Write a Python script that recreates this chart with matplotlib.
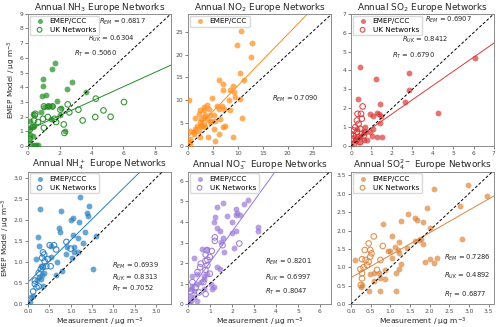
import numpy as np
import matplotlib
matplotlib.use("Agg")
import matplotlib.pyplot as plt

# ── data ─────────────────────────────────────────────────────────
# NH3
nh3_em_x = [1.67, 1.52, 0.96, 0.96, 2.75, 2.44, 1.15, 0.88, 3.63, 1.83, 1.0, 1.2, 1.35, 1.5,
            2.1, 0.33, 0.83, 2.0, 1.46, 0.1, 0.2, 0.4, 2.3, 0.1, 0.3, 0.06, 0.2, 0.37, 0.48, 0.62, 0.0]
nh3_em_y = [5.68, 5.27, 4.57, 4.07, 4.39, 3.91, 3.5, 3.39, 3.68, 3.05, 2.66, 2.7, 2.7, 2.7,
            2.6, 2.2, 2.3, 2.1, 1.86, 1.7, 1.3, 1.4, 1.0, 0.73, 0.7, 0.4, 0.1, 0.09, 0.07, 0.05, 1.05]
nh3_uk_x = [6.04, 4.27, 4.75, 5.2, 4.23, 3.17, 3.44, 2.5, 2.6, 2.04, 2.25, 2.29, 1.77, 1.0,
            1.3, 1.55, 0.46, 0.42, 0.38, 0.94, 1.0, 0.31, 0.1, 0.1, 0.63, 1.25, 1.67]
nh3_uk_y = [3.0, 3.23, 2.43, 2.0, 1.98, 2.48, 1.75, 2.84, 2.3, 2.48, 1.48, 0.9, 1.64, 2.7,
            2.7, 2.7, 2.2, 2.1, 1.75, 1.86, 1.25, 1.3, 1.1, 0.5, 1.64, 1.98, 1.86]

# NO2 (EMEP/CCC only)
no2_em_x = [10.7, 12.9, 9.9, 12.7, 10.4, 11.2, 6.2, 9.0, 7.1, 7.1, 9.2, 8.5, 9.5, 4.9, 0.2,
            8.2, 10.5, 5.9, 6.9, 3.9, 3.2, 3.2, 2.5, 4.2, 6.2, 7.2, 8.5, 2.2, 3.5, 4.5, 5.2,
            1.4, 2.7, 3.9, 6.5, 10.9, 2.5, 3.2, 4.5, 5.5, 1.9, 2.7, 3.5, 7.5, 7.1, 5.2, 1.5,
            0.5, 1.2, 2.2, 6.2, 1.2, 2.5, 4.0, 9.0, 0.5, 5.4, 0.2, 0.5, 2.9, 3.2, 4.6]
no2_em_y = [25.2, 22.6, 22.0, 19.5, 16.0, 14.4, 14.4, 13.1, 13.6, 12.2, 11.8, 12.3, 10.7, 10.6, 10.0,
            10.0, 10.2, 8.7, 8.7, 8.9, 8.5, 7.8, 7.8, 8.2, 8.2, 8.2, 7.8, 7.1, 6.7, 6.7, 6.7,
            6.2, 6.0, 6.0, 6.0, 6.2, 5.3, 4.9, 5.3, 5.6, 4.5, 4.3, 4.2, 4.5, 4.2, 3.8, 3.8,
            3.3, 3.1, 3.4, 2.7, 2.6, 2.1, 2.1, 2.0, 1.6, 1.1, 0.9, 0.5, 4.3, 6.4, 5.6]

# SO2
so2_em_x = [0.45, 6.06, 2.85, 1.22, 2.85, 0.34, 2.66, 1.43, 4.26, 0.94, 1.26, 1.35, 1.46, 1.1,
            1.43, 0.94, 1.5, 1.02, 0.62, 0.29, 0.2, 0.45, 0.78, 0.37, 0.05, 1.1, 0.7, 0.62, 1.26, 0.2]
so2_em_y = [4.18, 4.67, 3.88, 3.53, 2.98, 2.47, 2.36, 2.24, 1.76, 1.71, 1.76, 1.71, 1.62, 1.57,
            1.2, 0.74, 0.48, 0.56, 0.74, 0.92, 0.48, 0.48, 0.3, 0.21, 0.12, 0.92, 1.0, 0.3, 0.48, 0.3]
so2_uk_x = [0.57, 0.32, 0.49, 0.53, 0.29, 0.37, 0.21, 0.45, 0.13, 0.29, 0.53, 0.13, 0.37, 0.05,
            0.26, 0.45, 0.13, 0.62, 0.0, 0.7]
so2_uk_y = [2.1, 1.71, 1.71, 1.45, 1.36, 1.18, 1.0, 0.92, 0.83, 0.74, 0.65, 0.56, 0.48, 0.39,
            0.3, 0.21, 0.09, 0.56, 0.65, 0.74]

# NH4+
nh4_em_x = [1.21, 0.27, 0.77, 1.43, 1.39, 1.41, 1.05, 1.0, 1.19, 0.72, 0.74, 1.34, 1.16, 1.05,
            0.23, 1.6, 1.29, 0.92, 1.08, 0.55, 0.25, 1.08, 1.16, 0.9, 1.03, 0.18, 0.55, 0.69,
            0.31, 0.38, 0.66, 0.8, 1.52, 0.25, 0.3, 0.22, 0.35, 0.12, 0.06, 0.04, 0.33]
nh4_em_y = [2.54, 2.26, 2.22, 2.33, 2.17, 2.1, 2.04, 2.0, 1.96, 1.82, 1.72, 1.72, 1.58, 1.64,
            1.6, 1.62, 1.46, 1.36, 1.36, 1.38, 1.38, 1.23, 1.23, 1.18, 1.1, 1.07, 1.12, 0.99,
            0.91, 0.75, 0.7, 0.78, 0.83, 0.64, 0.59, 0.58, 0.43, 0.19, 0.16, 0.06, 0.7]
nh4_uk_x = [0.9, 0.51, 0.61, 0.66, 1.0, 0.35, 0.38, 0.33, 0.47, 0.39, 0.35, 0.3, 0.43, 0.25,
            0.16, 0.16, 0.2, 0.12, 0.25, 0.53]
nh4_uk_y = [1.48, 1.4, 1.4, 1.3, 1.32, 1.23, 1.18, 1.1, 1.07, 1.02, 0.88, 0.83, 0.9, 0.74,
            0.56, 0.48, 0.4, 0.3, 0.42, 0.9]

# NO3-
no3_em_x = [2.74, 2.55, 1.61, 1.34, 2.17, 2.22, 2.17, 2.36, 1.22, 1.79, 2.01, 1.19, 3.16, 3.16,
            1.31, 1.46, 2.17, 1.99, 1.57, 1.5, 1.64, 2.1, 0.27, 0.65, 0.88, 1.34, 1.44, 0.2,
            0.43, 0.88, 0.73, 0.58, 1.03, 1.11, 1.19, 0.73, 0.43, 0.12, 0.27, 0.09, 0.27, 0.12,
            0.43, 0.05, 0.2, 0.73]
no3_em_y = [5.08, 4.87, 4.92, 4.75, 4.62, 4.46, 4.34, 4.34, 4.26, 4.3, 4.02, 4.02, 3.77, 3.56,
            3.69, 3.57, 3.57, 3.48, 3.2, 3.03, 2.54, 2.75, 2.26, 2.66, 2.7, 1.8, 1.72, 1.39,
            1.48, 1.48, 1.39, 1.07, 0.98, 0.74, 0.82, 0.74, 0.98, 0.74, 0.66, 0.41, 0.33, 0.16,
            0.16, 0.08, 0.9, 1.23]
no3_uk_x = [2.33, 1.22, 1.22, 1.57, 0.85, 1.08, 0.8, 0.99, 0.88, 0.79, 0.58, 0.55, 0.88, 0.43,
            0.79, 0.99, 0.7, 0.8, 0.35, 0.2, 0.12, 0.5]
no3_uk_y = [2.95, 3.25, 3.08, 2.87, 2.62, 2.59, 2.41, 2.3, 2.16, 2.1, 1.97, 1.8, 1.89, 1.56,
            1.67, 1.48, 1.07, 0.49, 0.82, 1.07, 0.62, 0.57]

# SO4 2-
so4_em_x = [2.99, 2.12, 3.47, 1.93, 2.78, 1.44, 1.62, 1.69, 1.83, 1.27, 0.81, 1.05, 2.02, 1.72,
            1.64, 1.78, 2.82, 1.82, 1.21, 1.13, 1.19, 0.93, 1.0, 1.42, 1.21, 1.04, 0.09, 2.02,
            2.2, 1.89, 2.1, 1.27, 0.87, 1.21, 0.7, 0.58, 1.14, 0.49, 0.75, 0.87, 0.58, 0.28,
            0.25, 0.45, 0.75, 1.14]
so4_em_y = [3.25, 3.14, 2.93, 2.61, 2.67, 2.45, 2.34, 2.29, 2.23, 2.25, 2.17, 1.84, 2.06, 1.75,
            1.72, 1.76, 1.77, 1.63, 1.7, 1.55, 1.47, 1.45, 1.45, 1.52, 1.38, 1.25, 1.2, 1.22,
            1.25, 1.15, 1.11, 1.09, 0.93, 0.95, 0.85, 0.84, 0.84, 0.82, 0.7, 0.67, 0.64, 0.52,
            0.47, 0.36, 0.36, 0.36]
so4_uk_x = [0.58, 0.45, 0.81, 0.35, 0.49, 0.52, 0.49, 0.37, 0.28, 0.75, 0.45, 0.32, 0.24, 0.41,
            0.28, 0.28, 0.25, 0.66]
so4_uk_y = [1.84, 1.65, 1.58, 1.47, 1.47, 1.38, 1.29, 1.2, 1.22, 1.2, 1.15, 1.0, 0.95, 1.06,
            0.84, 0.7, 0.52, 0.93]

# fit lines (intercept, slope) and R values as printed
fits = {'NH3': (1.1, 0.49), 'NO2': (2.0, 1.12), 'SO2': (0.2, 0.75),
        'NH4': (0.52, 1.0), 'NO3': (0.55, 1.49), 'SO4': (0.72, 0.61)}
r_text = {
    'NH3': ["$R_{EM}$ = 0.6817", "$R_{UK}$ = 0.6304", "$R_T$ = 0.5060"],
    'NO2': ["$R_{EM}$ = 0.7090"],
    'SO2': ["$R_{EM}$ = 0.6907", "$R_{UK}$ = 0.8412", "$R_T$ = 0.6790"],
    'NH4': ["$R_{EM}$ = 0.6939", "$R_{UK}$ = 0.8313", "$R_T$ = 0.7052"],
    'NO3': ["$R_{EM}$ = 0.8201", "$R_{UK}$ = 0.6997", "$R_T$ = 0.8047"],
    'SO4': ["$R_{EM}$ = 0.7286", "$R_{UK}$ = 0.4892", "$R_T$ = 0.6877"],
}

panels = [
    ('NH3', "Annual NH$_3$ Europe Networks", nh3_em_x, nh3_em_y, nh3_uk_x, nh3_uk_y,
     'forestgreen', (9, 9), [0, 2, 4, 6, 8], range(10),
     [(0.50, 0.94), (0.42, 0.81), (0.32, 0.70)]),
    ('NO2', "Annual NO$_2$ Europe Networks", no2_em_x, no2_em_y, None, None,
     '#ff8c1a', (28.7, 28.9), [0, 5, 10, 15, 20, 25], [0, 5, 10, 15, 20, 25],
     [(0.59, 0.36)]),
    ('SO2', "Annual SO$_2$ Europe Networks", so2_em_x, so2_em_y, so2_uk_x, so2_uk_y,
     '#d93a3a', (7, 7), range(8), range(8),
     [(0.52, 0.95), (0.36, 0.80), (0.29, 0.68)]),
    ('NH4', "Annual NH$_4^+$ Europe Networks", nh4_em_x, nh4_em_y, nh4_uk_x, nh4_uk_y,
     '#2a7fc0', (3.35, 3.15), np.arange(0, 3.01, 0.5), np.arange(0, 3.01, 0.5),
     [(0.59, 0.29), (0.59, 0.20), (0.59, 0.115)]),
    ('NO3', "Annual NO$_3^-$ Europe Networks", no3_em_x, no3_em_y, no3_uk_x, no3_uk_y,
     '#9a78d8', (6.5, 6.45), range(7), range(7),
     [(0.54, 0.32), (0.54, 0.20), (0.54, 0.09)]),
    ('SO4', "Annual SO$_4^{2-}$ Europe Networks", so4_em_x, so4_em_y, so4_uk_x, so4_uk_y,
     '#dd8640', (3.64, 3.6), np.arange(0, 3.51, 0.5), np.arange(0, 3.51, 0.5),
     [(0.65, 0.35), (0.65, 0.21), (0.65, 0.07)]),
]


def main():
    fig = plt.figure(figsize=(5.0, 3.27), dpi=100)
    lefts = [0.056, 0.376, 0.702]
    bottoms = [0.553, 0.070]
    w, h = 0.286, 0.405

    for k, (key, title, ex, ey, ux, uy, color, lims, xt, yt, rpos) in enumerate(panels):
        row, col = divmod(k, 3)
        ax = fig.add_axes([lefts[col], bottoms[row], w, h])
        xmax, ymax = lims

        ax.scatter(ex, ey, s=18, color=color, alpha=0.7, linewidths=0,
                   label='EMEP/CCC', zorder=3)
        if ux is not None:
            ax.scatter(ux, uy, s=16, facecolors='none', edgecolors=color,
                       linewidths=0.8, alpha=0.9, label='UK Networks', zorder=3)

        # 1:1 line and fit line
        m = max(xmax, ymax)
        ax.plot([0, m], [0, m], ls=(0, (3, 2)), color='black', lw=0.7, zorder=4)
        b, a = fits[key]
        xx = np.array([0, xmax])
        ax.plot(xx, b + a * xx, color=color, lw=0.7, zorder=2)

        ax.set_xlim(0, xmax)
        ax.set_ylim(0, ymax)
        ax.set_xticks(list(xt))
        ax.set_yticks(list(yt))
        if key in ('NH4', 'SO4'):
            ax.set_xticklabels([f"{v:.1f}" for v in xt])
            ax.set_yticklabels([f"{v:.1f}" for v in yt])
        ax.tick_params(labelsize=4.3, length=2, width=0.5, pad=1.5,
                       colors='0.3')
        for sp in ax.spines.values():
            sp.set_color('0.55')
            sp.set_linewidth(0.7)

        ax.set_title(title, fontsize=6.4, pad=2, color='0.15')
        if col == 0:
            ax.set_ylabel("EMEP Model / μg m$^{-3}$", fontsize=5.2, labelpad=1, color='0.15')
        if row == 1:
            ax.set_xlabel("Measurement / μg m$^{-3}$", fontsize=5.4, labelpad=1, color='0.15')

        for txt, (px, py) in zip(r_text[key], rpos):
            ax.text(px, py, txt, transform=ax.transAxes, fontsize=4.9,
                    va='center', ha='left', color='0.15')

        ax.legend(loc='upper left', fontsize=5.2, frameon=True, handletextpad=0.4,
                  borderpad=0.35, labelspacing=0.35, borderaxespad=0.25,
                  edgecolor='0.85', framealpha=1.0, markerscale=0.85)

    fig.savefig("out.png", dpi=100)


if __name__ == "__main__":
    main()
